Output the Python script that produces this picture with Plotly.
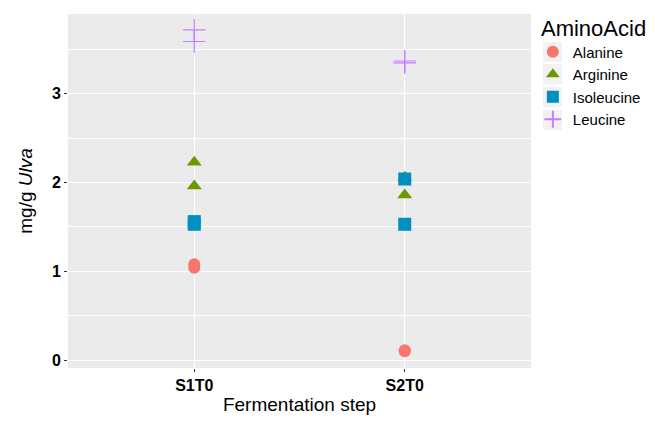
import plotly.graph_objects as go

steps = ["S1T0", "S1T0", "S2T0", "S2T0"]
alanine = [1.08, 1.04, 0.10, 0.11]
arginine = [2.23, 1.96, 2.06, 1.86]
isoleucine = [1.56, 1.53, 2.04, 1.53]
leucine = [3.72, 3.59, 3.37, 3.35]

series = [
    ("Alanine", alanine, "circle", "#F8766D", 12),
    ("Arginine", arginine, "triangle-up", "#6A9A00", 13),
    ("Isoleucine", isoleucine, "square", "#008FBF", 13),
    ("Leucine", leucine, "cross-thin", "#C77CFF", 16),
]
fig = go.Figure()
for name, vals, sym, col, sz in series:
    mk = dict(symbol=sym, color=col, size=sz)
    if sym == "cross-thin":
        mk["line"] = dict(color=col, width=1.2)
    fig.add_trace(go.Scatter(x=[1 if s == "S1T0" else 2 for s in steps], y=vals,
                             mode="markers", name=name, marker=mk))

L, R, T, B, W, H = 68, 124, 14, 59, 655, 427
pw, ph = W - L - R, H - T - B
def px2paper(x, y):
    return (x - L) / pw, (H - B - y) / ph

# legend key backgrounds (ggplot-style grey key boxes)
for cy in [52, 74, 97, 120]:
    x0, y0 = px2paper(543, cy + 10)
    x1, y1 = px2paper(562, cy - 10)
    fig.add_shape(type="rect", xref="paper", yref="paper", x0=x0, x1=x1, y0=y0, y1=y1,
                  fillcolor="#F2F2F2", line=dict(width=0), layer="below")

fig.update_layout(
    width=W, height=H,
    margin=dict(l=L, r=R, t=T, b=B, autoexpand=False),
    paper_bgcolor="white", plot_bgcolor="#EBEBEB",
    font=dict(family="Liberation Sans, Arial", color="black"),
    legend=dict(title=dict(text="&nbsp;AminoAcid", font=dict(size=22)),
                x=1.004, y=1.02, xanchor="left", yanchor="top",
                font=dict(size=15), tracegroupgap=0, itemsizing="constant",
                bgcolor="rgba(0,0,0,0)", itemwidth=30),
    showlegend=True,
)
fig.update_xaxes(range=[0.4, 2.6], tickvals=[1, 2], ticktext=["S1T0", "S2T0"],
                 showgrid=True, gridcolor="white", gridwidth=1.2, zeroline=False,
                 ticks="outside", ticklen=3, tickcolor="#333333",
                 tickfont=dict(size=16, weight="bold", color="black"),
                 title=dict(text="Fermentation step", font=dict(size=19), standoff=4))
fig.update_yaxes(range=[-0.09, 3.9], tickvals=[0, 1, 2, 3],
                 showgrid=True, gridcolor="white", gridwidth=1.2, zeroline=False,
                 minor=dict(tickvals=[0.5, 1.5, 2.5, 3.5], showgrid=True, gridcolor="white", gridwidth=0.6),
                 ticks="outside", ticklen=3, tickcolor="#333333",
                 tickfont=dict(size=16, weight="bold", color="black"),
                 title=dict(text="mg/g <i>Ulva</i>", font=dict(size=19), standoff=14))
fig.write_html("out.html")
